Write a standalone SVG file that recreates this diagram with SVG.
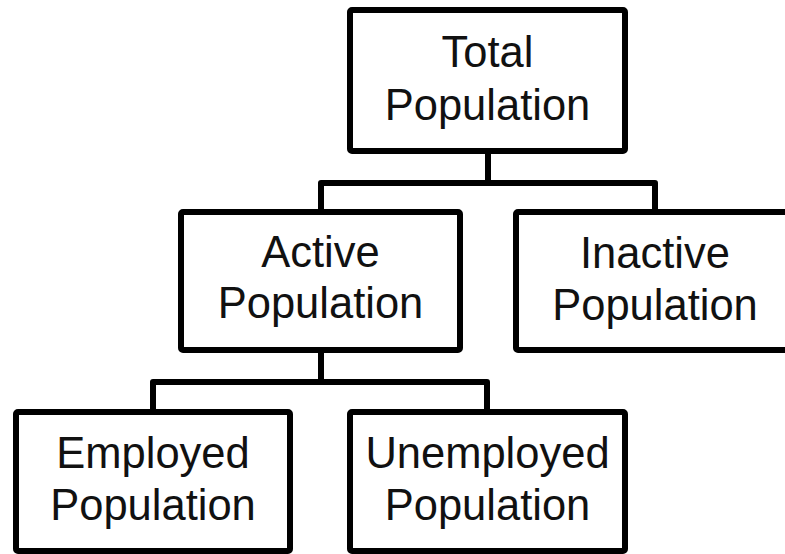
<svg xmlns="http://www.w3.org/2000/svg" width="785" height="554" viewBox="0 0 785 554">
<style>
.box{fill:#fff;stroke:#000;stroke-width:6;stroke-linejoin:round}
.con{fill:none;stroke:#000;stroke-width:6;stroke-linejoin:round;stroke-linecap:butt}
.lbl{font-family:"Liberation Sans",Arial,sans-serif;font-size:43.5px;fill:#111;text-anchor:middle}
</style>
<rect width="785" height="554" fill="#fff"/>
<g id="connectors">
<path class="con" d="M488 151V183M321 212V183H655V212"/>
<path class="con" d="M321 350V382M153 412V382H487V412"/>
</g>
<g id="total">
<rect class="box" x="350" y="10" width="275" height="141" rx="2"/>
<text class="lbl" x="487.5" y="67">Total</text>
<text class="lbl" x="487.5" y="120">Population</text>
</g>
<g id="active">
<rect class="box" x="181" y="212" width="279" height="138" rx="2"/>
<text class="lbl" x="320.5" y="267">Active</text>
<text class="lbl" x="320.5" y="318">Population</text>
</g>
<g id="inactive">
<rect class="box" x="516" y="212" width="300" height="138" rx="2"/>
<text class="lbl" x="655" y="268">Inactive</text>
<text class="lbl" x="655" y="320">Population</text>
</g>
<g id="employed">
<rect class="box" x="16" y="412" width="274" height="139" rx="2"/>
<text class="lbl" x="153" y="468">Employed</text>
<text class="lbl" x="153" y="520">Population</text>
</g>
<g id="unemployed">
<rect class="box" x="350" y="412" width="275" height="139" rx="2"/>
<text class="lbl" x="487.5" y="468">Unemployed</text>
<text class="lbl" x="487.5" y="520">Population</text>
</g>
</svg>
